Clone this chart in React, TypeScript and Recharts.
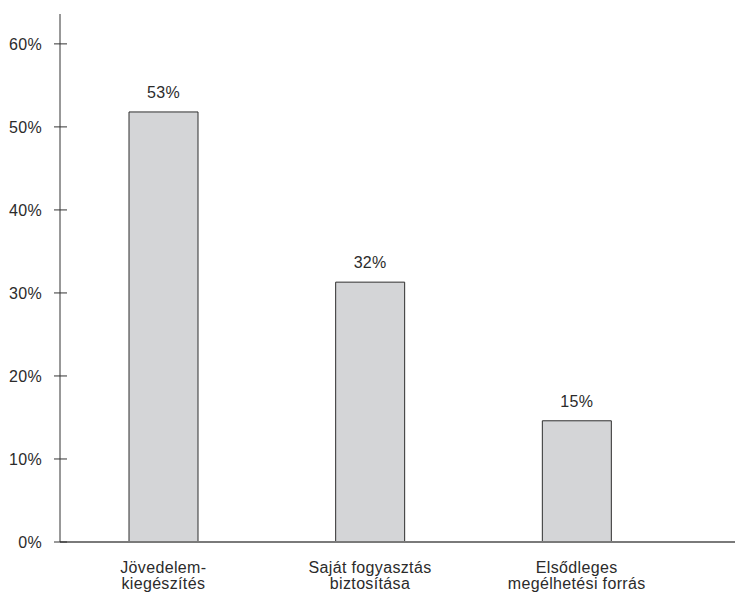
import { Bar, BarChart, XAxis, YAxis } from "recharts";

const categories = ["Jövedelem-\nkiegészítés", "Saját fogyasztás\nbiztosítása", "Elsődleges\nmegélhetési forrás"];
const shares = [51.8, 31.3, 14.6];
const shareLabels = ["53%", "32%", "15%"];
const yTicks = [0, 10, 20, 30, 40, 50, 60];

const data = categories.map((name, i) => ({ name, share: shares[i] }));

const font = "'Liberation Sans', Arial, sans-serif";
const textColor = "#2b2b2b";
const textProps = { fontSize: 16, letterSpacing: 0.35, fontFamily: font, fill: textColor };

function YTick({ x, y, payload }: any) {
  const axisX = x + 18;
  return (
    <g>
      <line x1={axisX - 6} x2={axisX + 7} y1={y} y2={y} stroke="#333" strokeWidth={1} />
      <text x={x} y={y} dy="0.36em" textAnchor="end" {...textProps}>
        {payload.value}%
      </text>
    </g>
  );
}

function XTick({ x, y, payload }: any) {
  const lines = String(payload.value).split("\n");
  return (
    <text x={x} y={y} textAnchor="middle" {...textProps}>
      {lines.map((line, i) => (
        <tspan key={i} x={x} y={y + 31 + i * 16}>
          {line}
        </tspan>
      ))}
    </text>
  );
}

function BarLabel({ x, y, width, index }: any) {
  return (
    <text x={x + width / 2} y={y - 14} textAnchor="middle" {...textProps}>
      {shareLabels[index]}
    </text>
  );
}

export default function App() {
  return (
    <div style={{ width: 743, height: 593, margin: "-8px 0 0 -8px" }}>
      <BarChart width={743} height={593} data={data} margin={{ top: 14, right: -8, bottom: 0, left: 0 }}>
        <XAxis
          dataKey="name"
          height={51}
          axisLine={{ stroke: "#7a7a7a", strokeWidth: 2 }}
          tickLine={false}
          tickSize={0}
          tickMargin={0}
          interval={0}
          padding={{ left: 0, right: 71 }}
          tick={<XTick />}
        />
        <YAxis
          width={60}
          domain={[0, 63.6]}
          ticks={yTicks}
          allowDataOverflow
          axisLine={{ stroke: "#333", strokeWidth: 1 }}
          tickLine={false}
          tickSize={0}
          tickMargin={18}
          tick={<YTick />}
        />
        <Bar dataKey="share" barSize={69} fill="#d4d5d7" stroke="#2e2e2e" strokeWidth={1} isAnimationActive={false} label={<BarLabel />} />
      </BarChart>
    </div>
  );
}
